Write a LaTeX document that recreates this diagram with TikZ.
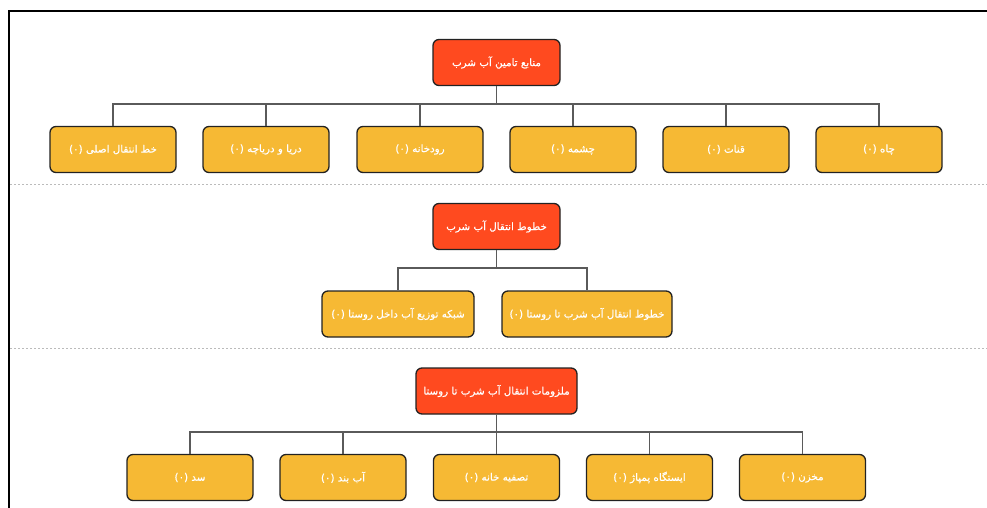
\documentclass[tikz,border=0pt]{standalone}
\usepackage{fontspec}
\newfontfamily\arabicfont[Script=Arabic,FakeBold=0.6]{DejaVu Sans}
\TeXXeTstate=1
\definecolor{rootred}{HTML}{FF4A1F}
\definecolor{leafyel}{HTML}{F6B934}
\definecolor{edgedark}{HTML}{222222}
\definecolor{linegrey}{HTML}{5A5A5A}
\definecolor{sepgrey}{HTML}{BBBBBB}
\newcommand{\rtl}[1]{\beginR #1\endR}
\tikzset{
  basebox/.style={rectangle, rounded corners=6pt, draw=edgedark, line width=1.3pt,
    text=white, font=\arabicfont\fontsize{10.3}{12}\selectfont, inner sep=0pt, minimum height=46pt},
  rootbox/.style={basebox, fill=rootred},
  leafbox/.style={basebox, fill=leafyel, minimum width=126pt},
  conn/.style={draw=linegrey, line width=1.3pt},
  sepline/.style={draw=sepgrey, line width=0.7pt, dash pattern=on 2pt off 2pt},
  frameline/.style={draw=black, line width=2pt}
}
\begin{document}
\begin{tikzpicture}[x=1pt,y=-1pt]
\useasboundingbox (0,0) rectangle (987,508);
% frame
\draw[frameline] (9,508) -- (9,11) -- (987,11);
% separators
\draw[sepline] (10,184) -- (987,184);
\draw[sepline] (10,348) -- (987,348);

% ---- row 1
\node[rootbox, minimum width=127pt] (r1) at (496.5,62.5) {\rtl{منابع تامین آب شرب}};
\coordinate (b1) at (496.5,104);
\node[leafbox] (a1) at (113,149.5) {\rtl{خط انتقال اصلی (۰)}};
\node[leafbox] (a2) at (266,149.5) {\rtl{دریا و دریاچه (۰)}};
\node[leafbox] (a3) at (420,149.5) {\rtl{رودخانه (۰)}};
\node[leafbox] (a4) at (573,149.5) {\rtl{چشمه (۰)}};
\node[leafbox] (a5) at (726,149.5) {\rtl{قنات (۰)}};
\node[leafbox] (a6) at (879,149.5) {\rtl{چاه (۰)}};
\foreach \c in {a1,a2,a3,a4,a5,a6} \draw[conn] (r1.south) -- (b1) -| (\c.north);

% ---- row 2
\node[rootbox, minimum width=127pt] (r2) at (496.5,226.5) {\rtl{خطوط انتقال آب شرب}};
\coordinate (b2) at (496.5,268);
\node[leafbox, minimum width=152pt] (m1) at (398,314) {\rtl{شبکه توزیع آب داخل روستا (۰)}};
\node[leafbox, minimum width=170pt] (m2) at (587,314) {\rtl{خطوط انتقال آب شرب تا روستا (۰)}};
\foreach \c in {m1,m2} \draw[conn] (r2.south) -- (b2) -| (\c.north);

% ---- row 3
\node[rootbox, minimum width=161pt] (r3) at (496.5,391) {\rtl{ملزومات انتقال آب شرب تا روستا}};
\coordinate (b3) at (496.5,432);
\node[leafbox] (s1) at (190,477.5) {\rtl{سد (۰)}};
\node[leafbox] (s2) at (343,477.5) {\rtl{آب بند (۰)}};
\node[leafbox] (s3) at (496.5,477.5) {\rtl{تصفیه خانه (۰)}};
\node[leafbox] (s4) at (649.5,477.5) {\rtl{ایستگاه پمپاژ (۰)}};
\node[leafbox] (s5) at (802.5,477.5) {\rtl{مخزن (۰)}};
\foreach \c in {s1,s2,s3,s4,s5} \draw[conn] (r3.south) -- (b3) -| (\c.north);
\end{tikzpicture}
\end{document}
